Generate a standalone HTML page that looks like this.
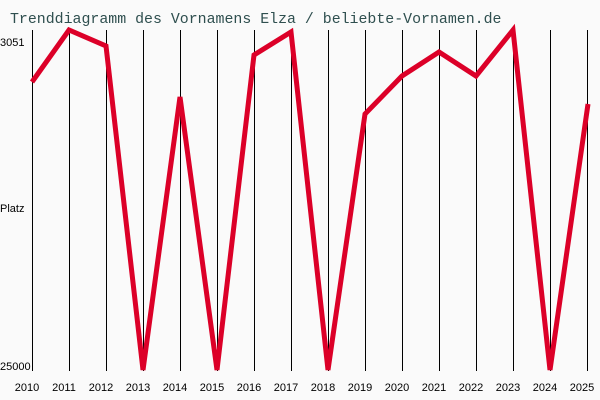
<!DOCTYPE html>
<html><head><meta charset="utf-8"><style>
html,body{margin:0;padding:0;background:#fafafa;}
</style></head><body>
<svg width="600" height="400" xmlns="http://www.w3.org/2000/svg" style="display:block">
<rect width="600" height="400" fill="#fafafa"/>
<text x="10" y="23" font-family="Liberation Mono, monospace" font-size="14.9" fill="#2f4f4f">Trenddiagramm des Vornamens Elza / beliebte-Vornamen.de</text>
<g stroke="#000" stroke-width="1">
<line x1="32.5" y1="30" x2="32.5" y2="371"/>
<line x1="69.5" y1="30" x2="69.5" y2="371"/>
<line x1="106.5" y1="30" x2="106.5" y2="371"/>
<line x1="143.5" y1="30" x2="143.5" y2="371"/>
<line x1="180.5" y1="30" x2="180.5" y2="371"/>
<line x1="217.5" y1="30" x2="217.5" y2="371"/>
<line x1="254.5" y1="30" x2="254.5" y2="371"/>
<line x1="291.5" y1="30" x2="291.5" y2="371"/>
<line x1="328.5" y1="30" x2="328.5" y2="371"/>
<line x1="365.5" y1="30" x2="365.5" y2="371"/>
<line x1="402.5" y1="30" x2="402.5" y2="371"/>
<line x1="439.5" y1="30" x2="439.5" y2="371"/>
<line x1="476.5" y1="30" x2="476.5" y2="371"/>
<line x1="513.5" y1="30" x2="513.5" y2="371"/>
<line x1="550.5" y1="30" x2="550.5" y2="371"/>
<line x1="587.5" y1="30" x2="587.5" y2="371"/>
</g>
<polyline fill="none" stroke="#dc0028" stroke-width="5" stroke-linejoin="miter" points="32,82 69,30 106,46 143,370 180,97 217,370 254,55 291,32 328,370 365,114 402,76 439,52 476,76 513,30 550,370 588,104"/>
<g font-family="Liberation Sans, sans-serif" font-size="11" fill="#000">
<text x="0" y="46">3051</text>
<text x="0" y="212">Platz</text>
<text x="0" y="370">25000</text>
</g>
<g font-family="Liberation Sans, sans-serif" font-size="11" fill="#000" text-anchor="middle">
<text x="27" y="391">2010</text><text x="64" y="391">2011</text><text x="101" y="391">2012</text><text x="138" y="391">2013</text>
<text x="175" y="391">2014</text><text x="212" y="391">2015</text><text x="249" y="391">2016</text><text x="286" y="391">2017</text>
<text x="323" y="391">2018</text><text x="360" y="391">2019</text><text x="397" y="391">2020</text><text x="434" y="391">2021</text>
<text x="471" y="391">2022</text><text x="508" y="391">2023</text><text x="545" y="391">2024</text><text x="582" y="391">2025</text>
</g>
</svg>
</body></html>
